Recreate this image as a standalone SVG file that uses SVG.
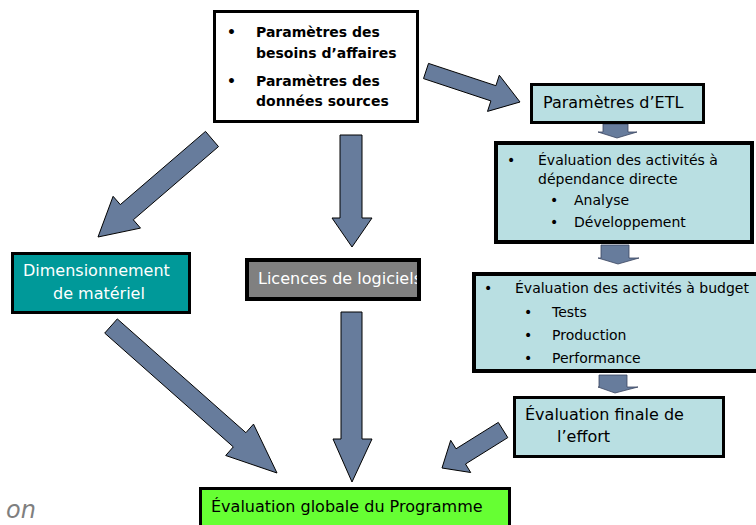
<svg xmlns="http://www.w3.org/2000/svg" width="756" height="525" viewBox="0 0 756 525">
<defs>
<style>
.t{font-family:"DejaVu Sans","Liberation Sans",sans-serif;}
.b{font-weight:bold;font-size:14px;fill:#000;}
.r14{font-size:14px;fill:#000;}
.r16{font-size:16px;fill:#000;}
.w16{font-size:16px;fill:#fff;}
.arr{fill:#677c9c;stroke:#000;stroke-width:1;stroke-linejoin:round;}
.sarr{fill:#677c9c;stroke:#3a4560;stroke-width:0.8;}
.lb{fill:#b9dfe2;stroke:#000;}
</style>
<clipPath id="licClip"><rect x="249" y="262" width="168" height="35"/></clipPath>
</defs>
<rect width="756" height="525" fill="#fff"/>

<g id="connectors">
<polygon class="arr" points="428.5,63.4 495.9,85.7 499.3,75.2 520,102 487.5,111.4 490.9,100.9 423.5,78.6"/>
<polygon class="arr" points="205.5,131.4 120.3,204.6 113.1,196.3 98,237 140.5,228.1 133.3,219.8 218.5,146.6"/>
<polygon class="arr" points="340,135 362,135 362,218 372,218 352,247 332,218 340,218"/>
<polygon class="arr" points="117.3,318.9 245.9,432.7 253.5,424.1 277,473 225.7,455.5 233.3,446.9 104.7,333.1"/>
<polygon class="arr" points="341,312 362,312 362,439 372,439 352,482 333,439 341,439"/>
<polygon class="arr" points="498.3,422.4 456,448.8 450.7,440.3 442,468 470.7,472.5 465.5,464 507.8,437.6"/>
<polygon class="sarr" points="603,124 628,124 628,132 637,132 617,138 598,132 603,132"/>
<polygon class="sarr" points="601,245 629,245 629,258 639,258 618,264 598,258 601,258"/>
<polygon class="sarr" points="599,375 627,375 627,387 638,387 615,393 598,387 599,387"/>
</g>

<g id="node-params">
<rect x="214.5" y="11.5" width="203" height="110" fill="#fff" stroke="#000" stroke-width="3"/>
<text class="t b" x="227" y="37">•</text>
<text class="t b" x="256" y="37">Paramètres des</text>
<text class="t b" x="256" y="58">besoins d’affaires</text>
<text class="t b" x="227" y="86">•</text>
<text class="t b" x="256" y="86">Paramètres des</text>
<text class="t b" x="256" y="106">données sources</text>
</g>

<g id="node-etl">
<rect class="lb" x="531.5" y="84.5" width="172" height="38" stroke-width="3"/>
<text class="t r16" x="543" y="108">Paramètres d’ETL</text>
</g>

<g id="node-directe">
<rect class="lb" x="496" y="143" width="256" height="99" stroke-width="4"/>
<text class="t r14" x="507" y="165">•</text>
<text class="t r14" x="538" y="165">Évaluation des activités à</text>
<text class="t r14" x="538" y="184">dépendance directe</text>
<text class="t r14" x="550" y="205">•</text>
<text class="t r14" x="574" y="205">Analyse</text>
<text class="t r14" x="550" y="227">•</text>
<text class="t r14" x="574" y="227">Développement</text>
</g>

<g id="node-budget">
<rect class="lb" x="474" y="274" width="290" height="97" stroke-width="4"/>
<text class="t r14" x="484" y="293">•</text>
<text class="t r14" x="515" y="293">Évaluation des activités à budget</text>
<text class="t r14" x="524" y="317">•</text>
<text class="t r14" x="552" y="317">Tests</text>
<text class="t r14" x="524" y="340">•</text>
<text class="t r14" x="552" y="340">Production</text>
<text class="t r14" x="524" y="363">•</text>
<text class="t r14" x="552" y="363">Performance</text>
</g>

<g id="node-effort">
<rect class="lb" x="514.5" y="397.5" width="209" height="59" stroke-width="3"/>
<text class="t r16" x="525" y="420" font-size="16.5">Évaluation finale de</text>
<text class="t r16" x="557" y="442" font-size="16.5">l’effort</text>
</g>

<g id="node-dimension">
<rect x="12.5" y="253.5" width="177" height="59" fill="#009999" stroke="#000" stroke-width="3"/>
<text class="t w16" x="23" y="276">Dimensionnement</text>
<text class="t w16" x="53" y="299">de matériel</text>
</g>

<g id="node-licences">
<rect x="247" y="260" width="172" height="39" fill="#808080" stroke="#000" stroke-width="4"/>
<text class="t w16" x="258" y="284" clip-path="url(#licClip)">Licences de logiciels</text>
</g>

<g id="node-globale">
<rect x="200.5" y="488.5" width="309" height="50" fill="#66ff33" stroke="#000" stroke-width="3"/>
<text class="t r16" x="211" y="512">Évaluation globale du Programme</text>
</g>

<text x="6" y="518" font-family="DejaVu Sans, sans-serif" font-style="italic" font-size="24" fill="#7f7f7f">on</text>
</svg>
